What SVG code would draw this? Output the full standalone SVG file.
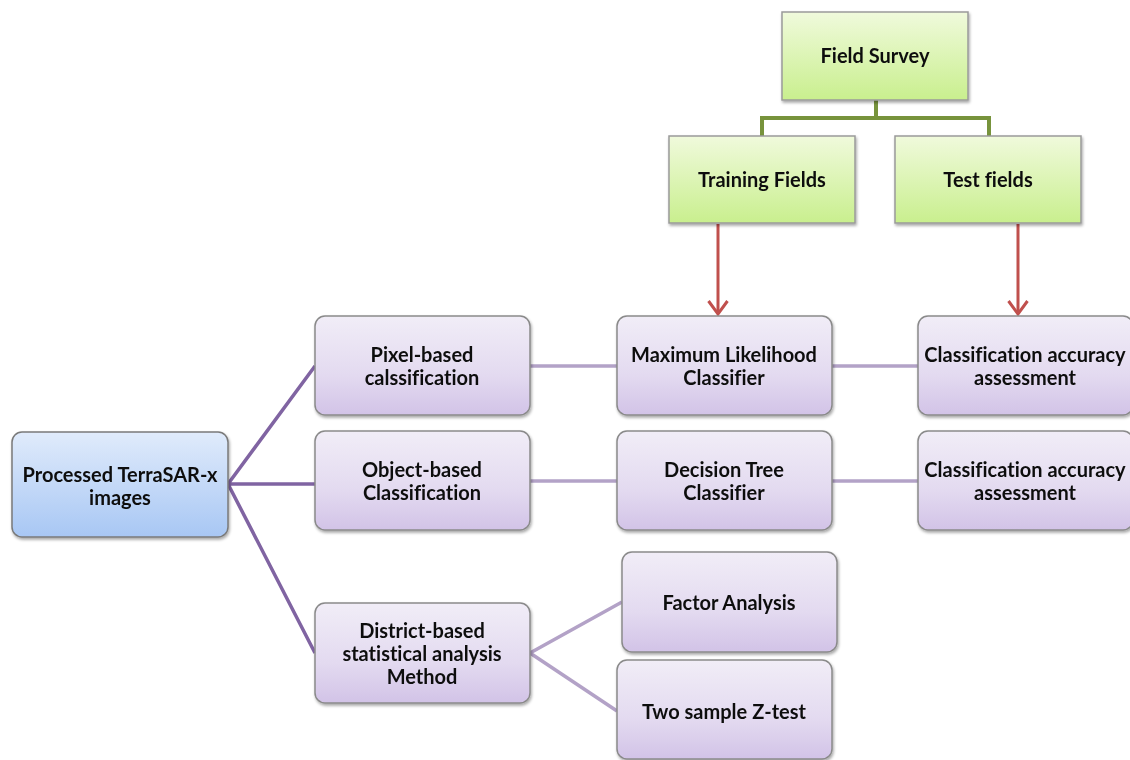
<svg xmlns="http://www.w3.org/2000/svg" width="1130" height="760" viewBox="0 0 1130 760">
  <defs>
    <linearGradient id="gGreen" x1="0" y1="0" x2="0" y2="1">
      <stop offset="0" stop-color="#f0fadc"/>
      <stop offset="1" stop-color="#c9ef8e"/>
    </linearGradient>
    <linearGradient id="gPurple" x1="0" y1="0" x2="0" y2="1">
      <stop offset="0" stop-color="#f1edf7"/>
      <stop offset="0.6" stop-color="#e3daf0"/>
      <stop offset="1" stop-color="#d2c3e7"/>
    </linearGradient>
    <linearGradient id="gBlue" x1="0" y1="0" x2="0" y2="1">
      <stop offset="0" stop-color="#e0ebfb"/>
      <stop offset="1" stop-color="#a8c7f4"/>
    </linearGradient>
    <filter id="shadow" x="-10%" y="-10%" width="125%" height="130%">
      <feGaussianBlur in="SourceAlpha" stdDeviation="1.5"/>
      <feOffset dx="1" dy="2" result="b"/>
      <feComponentTransfer><feFuncA type="linear" slope="0.35"/></feComponentTransfer>
      <feMerge><feMergeNode/><feMergeNode in="SourceGraphic"/></feMerge>
    </filter>
    <!-- open V head; drawn along +x so orient="auto" follows the line -->
    <marker id="redArrow" viewBox="0 0 16 22" refX="14" refY="11" markerWidth="16" markerHeight="22" markerUnits="userSpaceOnUse" orient="auto">
      <path d="M1,1.5 L14,11 L1,20.5" fill="none" stroke="#c0504d" stroke-width="3" stroke-linejoin="miter"/>
    </marker>
  </defs>
  <style>
    .green { fill: url(#gGreen); stroke: #9a9a9a; stroke-width: 1.5; }
    .purple { fill: url(#gPurple); stroke: #8a8a8a; stroke-width: 1.5; }
    .blue { fill: url(#gBlue); stroke: #7a7a7a; stroke-width: 1.5; }
    text { font-family: Lato, "Open Sans", "Liberation Sans", sans-serif; font-weight: bold; font-size: 20px; fill: #111; text-anchor: middle; font-variant-ligatures: none; }
    .tree { fill: none; stroke: #77933c; stroke-width: 4; }
    .main { fill: none; stroke: #8064a2; stroke-width: 3.5; }
    .light { fill: none; stroke: #b3a2c7; stroke-width: 3.5; }
    .red { fill: none; stroke: #c0504d; stroke-width: 3; }
  </style>

  <!-- connectors -->
  <g id="connectors">
    <path class="tree" d="M876,100 V118 M762,137 V118 H989 V137"/>
    <path class="red" d="M718,224 V314" marker-end="url(#redArrow)"/>
    <path class="red" d="M1018,224 V314" marker-end="url(#redArrow)"/>
    <path class="main" d="M228,484 L315,366 M228,484 H315 M228,484 L315,653"/>
    <path class="light" d="M530,366 H617 M832,366 H918 M530,481 H617 M832,481 H918"/>
    <path class="light" d="M530,653 L622,602 M530,653 L617,711"/>
  </g>

  <!-- top: survey -->
  <g id="field-survey" filter="url(#shadow)">
    <rect class="green" x="782" y="12" width="186" height="88"/>
    <text x="875" y="63">Field Survey</text>
  </g>
  <g id="training-fields" filter="url(#shadow)">
    <rect class="green" x="669" y="136" width="186" height="87"/>
    <text x="762" y="187">Training Fields</text>
  </g>
  <g id="test-fields" filter="url(#shadow)">
    <rect class="green" x="895" y="136" width="186" height="87"/>
    <text x="988" y="187">Test fields</text>
  </g>

  <!-- source -->
  <g id="processed-images" filter="url(#shadow)">
    <rect class="blue" x="12" y="432" width="216" height="105" rx="10"/>
    <text x="120" y="482">Processed TerraSAR-x</text>
    <text x="120" y="505">images</text>
  </g>

  <!-- methods -->
  <g id="pixel-based" filter="url(#shadow)">
    <rect class="purple" x="315" y="316" width="215" height="99" rx="10"/>
    <text x="422" y="362">Pixel-based</text>
    <text x="422" y="385">calssification</text>
  </g>
  <g id="object-based" filter="url(#shadow)">
    <rect class="purple" x="315" y="431" width="215" height="99" rx="10"/>
    <text x="422" y="477">Object-based</text>
    <text x="422" y="500">Classification</text>
  </g>
  <g id="district-based" filter="url(#shadow)">
    <rect class="purple" x="315" y="603" width="215" height="100" rx="10"/>
    <text x="422" y="638">District-based</text>
    <text x="422" y="661">statistical analysis</text>
    <text x="422" y="684">Method</text>
  </g>

  <!-- classifiers -->
  <g id="maximum-likelihood" filter="url(#shadow)">
    <rect class="purple" x="617" y="316" width="215" height="99" rx="10"/>
    <text x="724" y="362">Maximum Likelihood</text>
    <text x="724" y="385">Classifier</text>
  </g>
  <g id="decision-tree" filter="url(#shadow)">
    <rect class="purple" x="617" y="431" width="215" height="99" rx="10"/>
    <text x="724" y="477">Decision Tree</text>
    <text x="724" y="500">Classifier</text>
  </g>

  <!-- accuracy -->
  <g id="accuracy-1" filter="url(#shadow)">
    <rect class="purple" x="918" y="316" width="215" height="99" rx="10"/>
    <text x="1025" y="362">Classification accuracy</text>
    <text x="1025" y="385">assessment</text>
  </g>
  <g id="accuracy-2" filter="url(#shadow)">
    <rect class="purple" x="918" y="431" width="215" height="99" rx="10"/>
    <text x="1025" y="477">Classification accuracy</text>
    <text x="1025" y="500">assessment</text>
  </g>

  <!-- statistics -->
  <g id="factor-analysis" filter="url(#shadow)">
    <rect class="purple" x="622" y="552" width="215" height="100" rx="10"/>
    <text x="729" y="610">Factor Analysis</text>
  </g>
  <g id="z-test" filter="url(#shadow)">
    <rect class="purple" x="617" y="660" width="215" height="99" rx="10"/>
    <text x="724" y="719">Two sample Z-test</text>
  </g>
</svg>
